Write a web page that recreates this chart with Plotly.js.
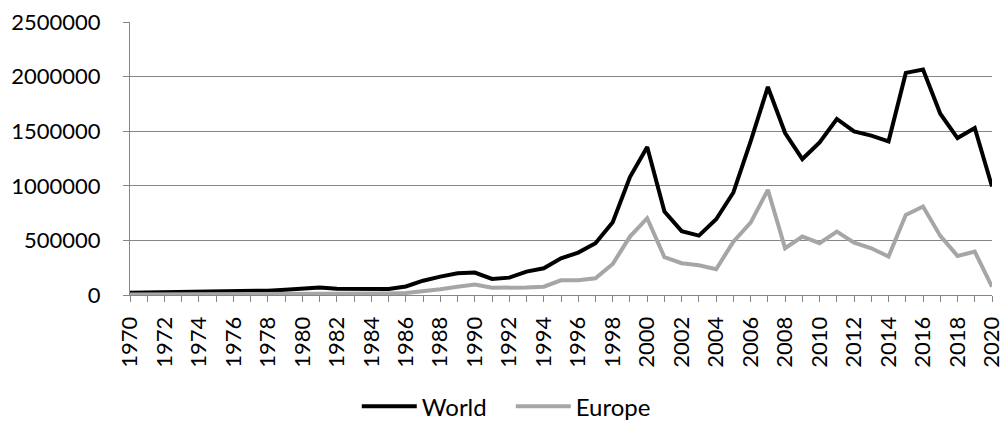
<!DOCTYPE html>
<html>
<head>
<meta charset="utf-8">
<script src="https://cdn.plot.ly/plotly-3.0.1.min.js"></script>
<style>html,body{margin:0;padding:0;background:#fff;}#chart{width:1005px;height:421px;}</style>
</head>
<body>
<div id="chart"></div>
<script>
const years = [];
for (let y = 1970; y <= 2020; y++) years.push(y);

const world = [
  20000, 22000, 24000, 28000, 30000, 32000, 30000, 35000, 40000, 48000,
  55000, 68000, 58000, 55000, 50000, 55000, 78000, 131000, 168000, 199000,
  205000, 147000, 159000, 214000, 245000, 336000, 388000, 474000, 667000, 1080000,
  1355000, 764000, 585000, 544000, 694000, 939000, 1407000, 1905000, 1483000, 1245000,
  1397000, 1612000, 1498000, 1459000, 1407000, 2034000, 2064000, 1660000, 1437000, 1529000,
  994000
];

const europe = [
  5000, 5000, 5000, 6000, 6000, 7000, 7000, 8000, 8000, 9000,
  10000, 10000, 10000, 10000, 10000, 14000, 18000, 31000, 52000, 76000,
  95000, 67000, 64000, 68000, 76000, 135000, 135000, 153000, 284000, 535000,
  703000, 346000, 291000, 272000, 236000, 489000, 663000, 963000, 428000, 535000,
  474000, 581000, 480000, 428000, 352000, 734000, 810000, 541000, 358000, 397000,
  76000
];

const tickYears = years.filter(y => y % 2 === 0);
const tickText = tickYears.map(String);

const font = {family: 'Lato, "Liberation Sans", sans-serif', size: 22, color: '#000'};
const legendFont = {family: 'Lato, "Liberation Sans", sans-serif', size: 24, color: '#000'};

const data = [
  {x: years, y: world, name: 'World', type: 'scatter', mode: 'lines',
   line: {color: '#000000', width: 4}},
  {x: years, y: europe, name: 'Europe', type: 'scatter', mode: 'lines',
   line: {color: '#a6a6a6', width: 4}}
];

const layout = {
  width: 1005, height: 421,
  margin: {l: 130, r: 13, t: 22, b: 126, autoexpand: false},
  paper_bgcolor: '#fff', plot_bgcolor: '#fff',
  font: font,
  showlegend: true,
  legend: {orientation: 'h', xref: 'container', yref: 'container',
           x: 0.355, xanchor: 'left', y: 0.034, yanchor: 'middle',
           font: legendFont, bgcolor: 'rgba(0,0,0,0)', itemwidth: 55,
           entrywidth: 84, entrywidthmode: 'pixels', tracegroupgap: 0},
  xaxis: {
    range: [1970, 2020], tickmode: 'array', tickvals: tickYears, ticktext: tickText,
    tickangle: -90, ticks: 'outside', ticklen: 6, tickcolor: '#868686', tickwidth: 1,
    minor: {dtick: 1, tick0: 1970, ticks: 'outside', ticklen: 6, tickcolor: '#868686', showgrid: false},
    showline: true, linecolor: '#868686', linewidth: 1, showgrid: false, zeroline: false,
    tickfont: font, ticklabelstandoff: 6, automargin: false, fixedrange: true
  },
  yaxis: {
    range: [0, 2500000], dtick: 500000, tick0: 0, tickformat: 'd',
    ticks: 'outside', ticklen: 6, tickcolor: '#868686',
    showline: true, linecolor: '#868686', linewidth: 1,
    showgrid: true, gridcolor: '#868686', gridwidth: 1, zeroline: false,
    tickfont: font, ticklabelstandoff: 18, automargin: false, fixedrange: true
  }
};

Plotly.newPlot('chart', data, layout, {displayModeBar: false, staticPlot: true});
</script>
</body>
</html>
